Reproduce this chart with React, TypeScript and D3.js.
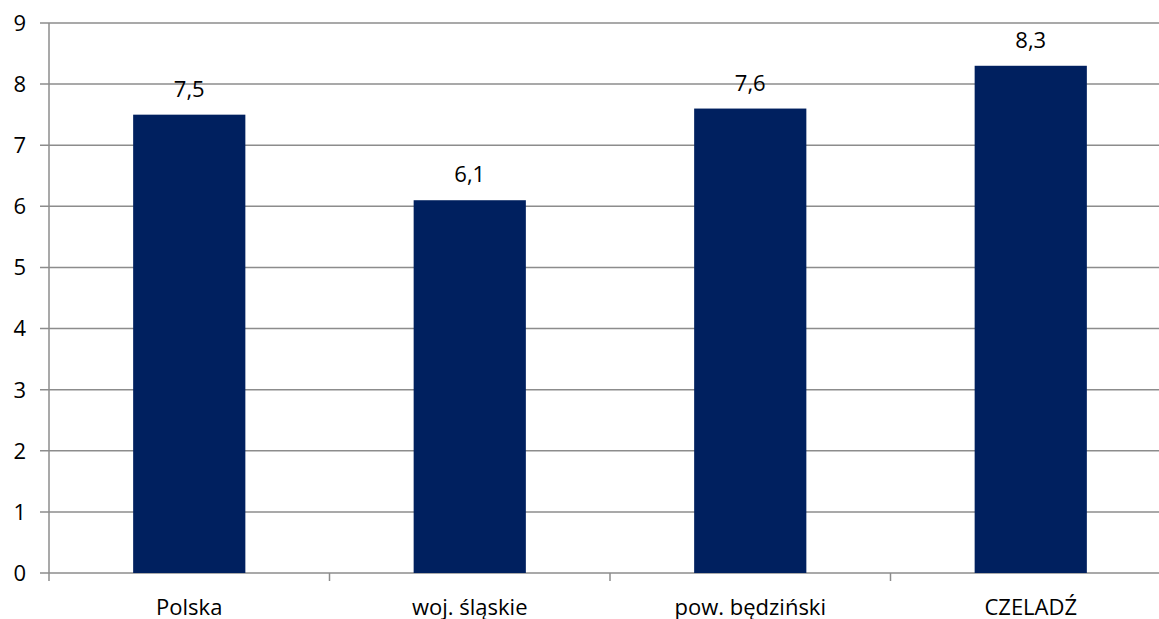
import React from "react";
import * as d3 from "d3";

const categories = ["Polska", "woj. śląskie", "pow. będziński", "CZELADŹ"];
const values = [7.5, 6.1, 7.6, 8.3];
const yTicks = [0, 1, 2, 3, 4, 5, 6, 7, 8, 9];

export default function App() {
  const W = 1159, H = 619;
  const left = 49, right = 1171, top = 23, bottom = 573;
  const x = d3.scaleBand<string>().domain(categories).range([left, right]).paddingInner(0.6).paddingOuter(0.3);
  const y = d3.scaleLinear().domain([0, 9]).range([bottom, top]);
  const step = (right - left) / categories.length;
  const font = "'Open Sans', sans-serif";
  const fs = 22;
  return (
    <svg width={W} height={H} style={{ position: "absolute", left: 0, top: 0, background: "#fff" }} fontFamily={font}>
      {yTicks.map((t) => (
        <g key={t}>
          <line x1={40} x2={right} y1={y(t)} y2={y(t)} stroke="#8c8c8c" strokeWidth={1.5} />
          <text x={26} y={y(t)} dy="0.36em" textAnchor="end" fontSize={fs} fill="#000">{t}</text>
        </g>
      ))}
      <line x1={left} x2={left} y1={top} y2={bottom + 8} stroke="#8c8c8c" strokeWidth={1.5} />
      {categories.map((c, i) => (
        <line key={"t" + c} x1={left + step * (i + 1)} x2={left + step * (i + 1)} y1={bottom} y2={bottom + 8} stroke="#8c8c8c" strokeWidth={1.5} />
      ))}
      {categories.map((c, i) => (
        <g key={c}>
          <rect x={x(c)} y={y(values[i])} width={x.bandwidth()} height={bottom - y(values[i])} fill="#00205F" />
          <text x={(x(c) as number) + x.bandwidth() / 2} y={y(values[i]) - 18} textAnchor="middle" fontSize={fs} fill="#000">
            {values[i].toString().replace(".", ",")}
          </text>
          <text x={(x(c) as number) + x.bandwidth() / 2} y={615} textAnchor="middle" fontSize={fs} fill="#000">{c}</text>
        </g>
      ))}
    </svg>
  );
}
